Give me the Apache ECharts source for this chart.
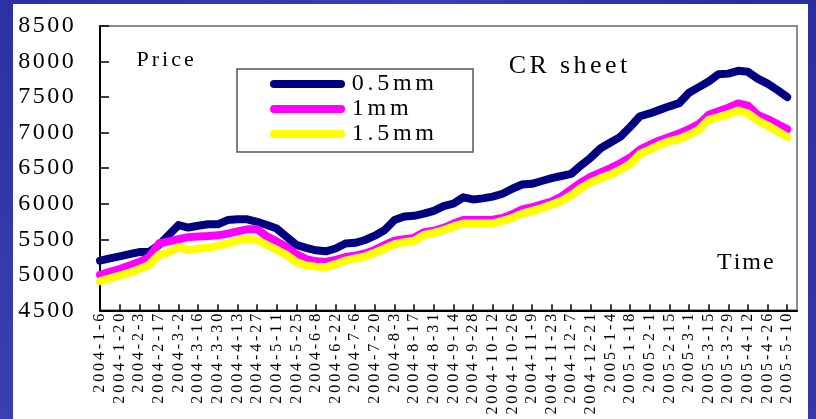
<!DOCTYPE html>
<html>
<head>
<meta charset="utf-8">
<script src="https://cdn.jsdelivr.net/npm/echarts@6/dist/echarts.min.js"></script>
<style>
  html, body { margin: 0; padding: 0; }
  body { width: 816px; height: 419px; overflow: hidden;
         background: linear-gradient(135deg, #2c30a0 0%, #3a3fb3 35%, #2a2e9c 60%, #3438ab 100%); }
  #panel { position: absolute; left: 13px; top: 4px; width: 795px; height: 415px; background: #fff; }
  #c { position: absolute; left: 0; top: 0; width: 816px; height: 419px; }
</style>
</head>
<body>
<div id="panel"></div>
<div id="c"></div>
<script>
const categories = ['2004-1-6','2004-1-13','2004-1-20','2004-1-27','2004-2-3','2004-2-10','2004-2-17','2004-2-24',
  '2004-3-2','2004-3-9','2004-3-16','2004-3-23','2004-3-30','2004-4-6','2004-4-13','2004-4-20','2004-4-27',
  '2004-5-4','2004-5-11','2004-5-18','2004-5-25','2004-6-1','2004-6-8','2004-6-15','2004-6-22','2004-6-29',
  '2004-7-6','2004-7-13','2004-7-20','2004-7-27','2004-8-3','2004-8-10','2004-8-17','2004-8-24','2004-8-31',
  '2004-9-7','2004-9-14','2004-9-21','2004-9-28','2004-10-5','2004-10-12','2004-10-19','2004-10-26',
  '2004-11-2','2004-11-9','2004-11-16','2004-11-23','2004-11-30','2004-12-7','2004-12-14','2004-12-21','2004-12-28',
  '2005-1-4','2005-1-11','2005-1-18','2005-1-25','2005-2-1','2005-2-8','2005-2-15','2005-2-22',
  '2005-3-1','2005-3-8','2005-3-15','2005-3-22','2005-3-29','2005-4-5','2005-4-12','2005-4-19','2005-4-26',
  '2005-5-3','2005-5-10','2005-5-17'];

const seriesNames = ['0.5mm', '1mm', '1.5mm'];

const thin05 = [5200,5230,5260,5290,5320,5320,5420,5560,5700,5665,5690,5710,5710,5770,5780,5780,5745,5700,5650,5535,
  5420,5380,5345,5330,5370,5440,5450,5490,5550,5630,5770,5820,5830,5860,5900,5965,6000,6090,6060,6075,
  6100,6140,6210,6270,6280,6320,6360,6390,6420,6540,6650,6780,6860,6940,7080,7230,7270,7320,7370,7415,
  7560,7640,7720,7820,7830,7870,7855,7760,7690,7600,7500];

const thin10 = [5000,5040,5080,5130,5180,5250,5440,5470,5500,5530,5540,5545,5555,5580,5610,5640,5640,5540,5470,5390,
  5290,5220,5190,5180,5210,5250,5270,5300,5350,5420,5480,5500,5520,5600,5620,5660,5720,5770,5770,5770,
  5775,5800,5850,5920,5950,5990,6030,6100,6200,6300,6380,6440,6500,6570,6650,6760,6830,6890,6940,6990,
  7050,7120,7250,7300,7350,7410,7380,7250,7190,7120,7050];

const thin15 = [4910,4950,4990,5030,5080,5140,5280,5320,5390,5350,5370,5380,5410,5440,5480,5510,5490,5420,5350,5280,
  5180,5130,5115,5110,5150,5200,5230,5260,5310,5370,5430,5460,5480,5560,5590,5630,5680,5720,5720,5720,
  5725,5760,5800,5860,5900,5940,5990,6040,6120,6220,6300,6360,6410,6480,6560,6700,6760,6830,6880,6910,
  6970,7040,7180,7220,7260,7310,7270,7170,7100,7020,6940];

const yMin = 4500, yMax = 8500, yStep = 500;
const colors = ['#000080', '#ff00ff', '#ffff00'];
const FONT = 'Liberation Serif';

function spaced(str, key) {
  return String(str).split('').map(function (c) { return '{' + key + '|' + c + '}'; }).join('');
}
function richStyle(size, padH, lh) {
  return { fontFamily: FONT, fontSize: size, fontWeight: 'normal', fontStyle: 'normal',
           lineHeight: lh || size, color: '#000', padding: [0, padH] };
}
function baseText(size) {
  return { fontFamily: FONT, fontSize: size, fontWeight: 'normal', color: '#000' };
}

const chart = echarts.init(document.getElementById('c'), null, { renderer: 'canvas' });
chart.setOption({
  animation: false,
  backgroundColor: 'transparent',
  textStyle: { fontFamily: FONT },
  title: [
    { text: spaced('Price', 'p'), left: 135, top: 49, padding: 0,
      textStyle: Object.assign(baseText(22), { rich: { p: richStyle(22, 1.5) } }) },
    { text: spaced('CR sheet', 't'), left: 507, top: 53, padding: 0,
      textStyle: Object.assign(baseText(26), { rich: { t: richStyle(26, 1.7) } }) },
    { text: spaced('Time', 'm'), left: 716, top: 251, padding: 0,
      textStyle: Object.assign(baseText(24), { rich: { m: richStyle(24, 1.0) } }) }
  ],
  graphic: [{
    type: 'rect',
    shape: { x: 237, y: 69, width: 236, height: 83 },
    style: { fill: 'none', stroke: '#555', lineWidth: 1.5 },
    silent: true
  }],
  legend: {
    orient: 'vertical',
    left: 270, top: 72,
    padding: 0,
    itemGap: 1,
    itemWidth: 75, itemHeight: 8,
    icon: 'path://M4,0 H71 A4,4 0 0 1 71,8 H4 A4,4 0 0 1 4,0 Z',
    data: seriesNames,
    formatter: function (n) { return spaced(n, 'l'); },
    textStyle: Object.assign(baseText(24), { rich: { l: richStyle(24, 1.85, 25) } })
  },
  grid: {
    left: 100, top: 26, right: 19, bottom: 107,
    show: true, borderColor: '#8c8c8c', borderWidth: 2, backgroundColor: '#fff'
  },
  xAxis: {
    type: 'category',
    data: categories,
    boundaryGap: false,
    axisLine: { onZero: false, lineStyle: { color: '#000', width: 2 } },
    axisTick: { inside: true, length: 6, interval: 1, lineStyle: { color: '#000', width: 1.5 } },
    axisLabel: Object.assign(baseText(16), {
      interval: 1, rotate: 90, margin: 2,
      formatter: function (v) { return spaced(v, 'x'); },
      rich: { x: richStyle(16, 1.45) }
    }),
    splitLine: { show: false }
  },
  yAxis: {
    type: 'value',
    min: yMin, max: yMax, interval: yStep,
    axisLine: { show: true, lineStyle: { color: '#000', width: 2 } },
    axisTick: { show: true, inside: true, length: 9, lineStyle: { color: '#000', width: 1.5 } },
    axisLabel: Object.assign(baseText(24), {
      margin: 25,
      formatter: function (v) { return spaced(v, 'v'); },
      rich: { v: richStyle(24, 1.25) }
    }),
    splitLine: { show: false }
  },
  series: [thin05, thin10, thin15].map(function (d, i) {
    return {
      name: seriesNames[i],
      type: 'line',
      data: d,
      color: colors[i],
      symbol: 'none',
      lineStyle: { color: colors[i], width: 8, cap: 'round', join: 'round' },
      itemStyle: { color: colors[i] }
    };
  })
});
</script>
</body>
</html>
